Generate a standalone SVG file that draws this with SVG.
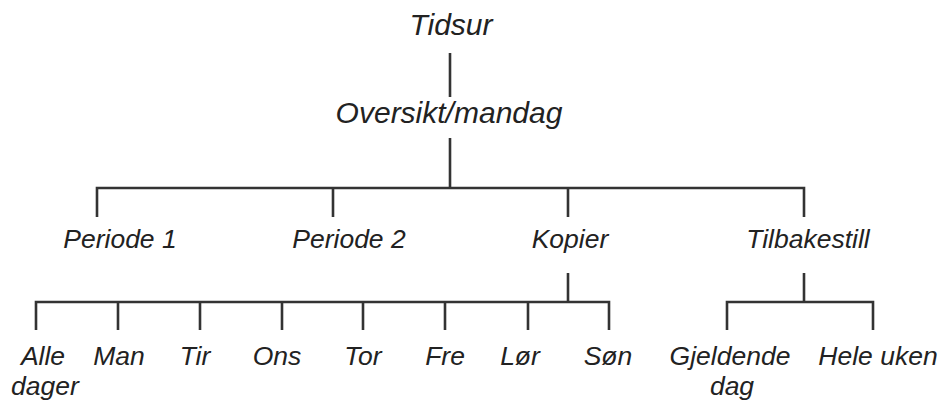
<svg xmlns="http://www.w3.org/2000/svg" width="943" height="403" viewBox="0 0 943 403">
<style>
text{font-family:"Liberation Sans",Arial,sans-serif;font-style:italic;fill:#222;text-anchor:middle}
.t{font-size:30px}
.s{font-size:26.5px}
.c{fill:none;stroke:#333;stroke-width:2.6;stroke-linecap:butt;stroke-linejoin:miter}
</style>
<rect width="943" height="403" fill="#fff"/>
<g id="connectors" class="c">
<path d="M450 53V97"/>
<path d="M450 138V188"/>
<path d="M97 217V188H804V217M333 188V217M568 188V217"/>
<path d="M568 273V302"/>
<path d="M36 330V302H609V330M118 302V330M200 302V330M282 302V330M363 302V330M445 302V330M528 302V330"/>
<path d="M804 273V302"/>
<path d="M727 330V302H873V330"/>
</g>
<g id="tidsur"><text class="t" x="451" y="35">Tidsur</text></g>
<g id="oversikt"><text class="t" x="449" y="123">Oversikt/mandag</text></g>
<g id="periode1"><text class="s" x="120" y="248">Periode 1</text></g>
<g id="periode2"><text class="s" x="349" y="248">Periode 2</text></g>
<g id="kopier"><text class="s" x="570" y="248">Kopier</text></g>
<g id="tilbakestill"><text class="s" x="808" y="248">Tilbakestill</text></g>
<g id="alle"><text class="s" x="43" y="365">Alle</text><text class="s" x="45" y="395">dager</text></g>
<g id="man"><text class="s" x="119" y="365">Man</text></g>
<g id="tir"><text class="s" x="195" y="365">Tir</text></g>
<g id="ons"><text class="s" x="277" y="365">Ons</text></g>
<g id="tor"><text class="s" x="363" y="365">Tor</text></g>
<g id="fre"><text class="s" x="445" y="365">Fre</text></g>
<g id="lor"><text class="s" x="520" y="365">Lør</text></g>
<g id="son"><text class="s" x="608" y="365">Søn</text></g>
<g id="gjeldende"><text class="s" x="730" y="365">Gjeldende</text><text class="s" x="732" y="395">dag</text></g>
<g id="heleuken"><text class="s" x="878" y="365">Hele uken</text></g>
</svg>
